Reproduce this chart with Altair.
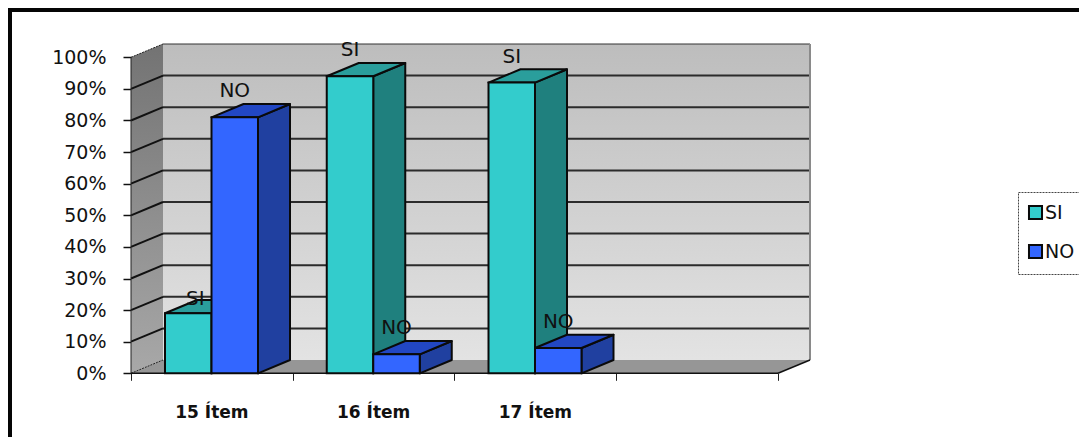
import altair as alt
import pandas as pd

categories = ["15 Ítem", "16 Ítem", "17 Ítem"]
series = ["SI", "NO"]
si_values = [19, 94, 92]
no_values = [81, 6, 8]
percent_ticks = [0, 10, 20, 30, 40, 50, 60, 70, 80, 90, 100]

FRONT = {"SI": "#33CCCC", "NO": "#3366FF"}
SIDE = {"SI": "#1F807E", "NO": "#2040A0"}
TOP = {"SI": "#2A9E9C", "NO": "#2247C4"}
FONT = "DejaVu Sans"

W, H = 1071, 429
STEP, PX = 161.75, 3.16
X0, Y0 = 123, 365.3
DX, DZ = 32 / STEP, 13.3 / PX
BAR, START = 46.5 / STEP, 34 / STEP
SLOTS = 4

xs = alt.Scale(domain=[-X0 / STEP, (W - X0) / STEP], range=[0, W], nice=False, zero=False)
ys = alt.Scale(domain=[Y0 / PX, (Y0 - H) / PX], range=[0, H], nice=False, zero=False)
x_axis = alt.Axis(values=list(range(SLOTS + 1)), labels=False, title=None, domain=False, grid=False,
                  offset=-(H - Y0), tickSize=7, tickColor="#222222", tickWidth=1)
y_axis = alt.Axis(values=percent_ticks, labelExpr="datum.value + '%'", title=None, domain=False, grid=False,
                  offset=-X0, tickSize=8, tickColor="#111111", tickWidth=1.5, labelPadding=17,
                  labelFont=FONT, labelFontSize=19, labelColor="#111111")
X = lambda f="x": alt.X(f"{f}:Q", scale=xs, axis=x_axis)
Y = lambda f="y": alt.Y(f"{f}:Q", scale=ys, axis=y_axis)

# walls -----------------------------------------------------------------
back = alt.Chart(pd.DataFrame([{"x": DX, "x2": SLOTS + DX, "y": DZ, "y2": 100 + DZ}])).mark_rect(
    color=alt.Gradient(gradient="linear", x1=0, y1=0, x2=0, y2=1,
                       stops=[alt.GradientStop(color="#BDBDBD", offset=0),
                              alt.GradientStop(color="#E3E3E3", offset=1)])
).encode(x=X(), x2="x2:Q", y=Y(), y2="y2:Q")

side = alt.Chart(pd.DataFrame([{"x": 0, "y": 100, "y2": 0}, {"x": DX, "y": 100 + DZ, "y2": DZ}])).mark_area(
    color=alt.Gradient(gradient="linear", x1=0, y1=0, x2=0, y2=1,
                       stops=[alt.GradientStop(color="#737373", offset=0),
                              alt.GradientStop(color="#A8A8A8", offset=1)])
).encode(x=X(), y=Y(), y2="y2:Q")

floor = alt.Chart(pd.DataFrame([{"y": 0, "x": 0, "x2": SLOTS}, {"y": DZ, "x": DX, "x2": SLOTS + DX}])).mark_area(
    orient="horizontal", color="#969696"
).encode(y=Y(), x=X(), x2="x2:Q")

grid_back = alt.Chart(pd.DataFrame([{"x": DX, "x2": SLOTS + DX, "y": t + DZ} for t in percent_ticks[1:-1]])).mark_rule(
    color="#2B2B2B", strokeWidth=2
).encode(x=X(), x2="x2:Q", y=Y())

top_edge = alt.Chart(pd.DataFrame([{"x": DX, "x2": SLOTS + DX, "y": 100 + DZ}])).mark_rule(
    color="#333333", strokeWidth=1
).encode(x=X(), x2="x2:Q", y=Y())

right_edge = alt.Chart(pd.DataFrame([{"x": SLOTS + DX, "y": DZ, "y2": 100 + DZ}])).mark_rule(
    color="#8A8A8A", strokeWidth=2
).encode(x=X(), y=Y(), y2="y2:Q")

slants = pd.DataFrame([r for t in percent_ticks[1:-1] for r in
                       ({"t": t, "x": 0, "y": t}, {"t": t, "x": DX, "y": t + DZ})])
grid_side = alt.Chart(slants).mark_line(color="#111111", strokeWidth=2).encode(x=X(), y=Y(), detail="t:N")

thin = pd.DataFrame([r for t in (0, 100) for r in
                     ({"t": t, "x": 0, "y": t}, {"t": t, "x": DX, "y": t + DZ})])
thin_side = alt.Chart(thin).mark_line(color="#222222", strokeWidth=1, strokeDash=[2, 1]).encode(
    x=X(), y=Y(), detail="t:N")

right_slant = alt.Chart(pd.DataFrame([{"x": SLOTS, "y": 0}, {"x": SLOTS + DX, "y": DZ}])).mark_line(
    color="#111111", strokeWidth=1.5).encode(x=X(), y=Y())

y_line = alt.Chart(pd.DataFrame([{"x": 0, "y": 0, "y2": 100}])).mark_rule(color="#222222", strokeWidth=1).encode(
    x=X(), y=Y(), y2="y2:Q")
x_line = alt.Chart(pd.DataFrame([{"x": 0, "x2": SLOTS, "y": 0}])).mark_rule(color="#111111", strokeWidth=1.5).encode(
    x=X(), x2="x2:Q", y=Y())

# bars ------------------------------------------------------------------
def bar_layers(name, values, slot):
    a = [i + START + slot * BAR for i in range(len(values))]
    b = [v + BAR for v in a]
    side_df = pd.DataFrame([r for i, v in enumerate(values) for r in
                            ({"i": i, "x": b[i], "y": v, "y2": 0},
                             {"i": i, "x": b[i] + DX, "y": v + DZ, "y2": DZ})])
    top_df = pd.DataFrame([r for i, v in enumerate(values) for r in
                           ({"i": i, "y": v, "x": a[i], "x2": b[i]},
                            {"i": i, "y": v + DZ, "x": a[i] + DX, "x2": b[i] + DX})])
    front_df = pd.DataFrame({"x": a, "x2": b, "y": values, "serie": name})
    s = alt.Chart(side_df).mark_area(color=SIDE[name], stroke="#0A0A0A", strokeWidth=2, strokeJoin="round").encode(
        x=X(), y=Y(), y2="y2:Q", detail="i:N")
    t = alt.Chart(top_df).mark_area(orient="horizontal", color=TOP[name], stroke="#0A0A0A", strokeWidth=2,
                                    strokeJoin="round").encode(y=Y(), x=X(), x2="x2:Q", detail="i:N")
    f = alt.Chart(front_df).mark_bar(stroke="#0A0A0A", strokeWidth=2).encode(
        x=X(), x2="x2:Q", y=Y(), y2=alt.datum(0),
        color=alt.Color("serie:N", scale=alt.Scale(domain=series, range=[FRONT[k] for k in series]),
                        legend=alt.Legend(title=None, orient="none", legendX=1010, legendY=184,
                                          symbolType="square", symbolSize=170, symbolStrokeColor="#0A0A0A",
                                          symbolStrokeWidth=2, symbolOffset=-3, labelFont=FONT, labelFontSize=19,
                                          labelColor="#111111", labelOffset=0, rowPadding=16,
                                          padding=11, strokeColor="#444444", fillColor="white",
                                          cornerRadius=0, values=series)),
    )
    return [s, t, f]

# labels ----------------------------------------------------------------
LIFT = 26 / PX
label_rows = []
for i in range(len(categories)):
    label_rows.append({"x": i + START + BAR / 2, "y": si_values[i] + LIFT, "t": "SI"})
    label_rows.append({"x": i + START + 1.5 * BAR, "y": no_values[i] + LIFT, "t": "NO"})
# the first SI label sits lower and further right in the reference
label_rows[0]["x"] += 7 / STEP
label_rows[0]["y"] -= 12 / PX
labels = alt.Chart(pd.DataFrame(label_rows)).mark_text(
    font=FONT, fontSize=20, color="#111111", baseline="middle", clip=False
).encode(x=X(), y=Y(), text="t:N")

cat_labels = alt.Chart(pd.DataFrame({"x": [i + 0.5 for i in range(3)], "c": categories})).mark_text(
    font=FONT, fontSize=17, fontWeight="bold", color="#111111", baseline="middle"
).encode(x=X(), y=alt.value(405), text="c:N")

title = alt.Chart(pd.DataFrame({"c": ["CONTAMINANTES"]})).mark_text(
    font="Liberation Serif", fontSize=29, fontWeight="bold", color="black", baseline="alphabetic", clip=False
).encode(x=alt.value(543), y=alt.value(-2), text="c:N")

# frame -----------------------------------------------------------------
frame_l = alt.Chart(pd.DataFrame({"a": [0]})).mark_rule(color="#050505", strokeWidth=4).encode(
    x=alt.value(2), y=alt.value(0), y2=alt.value(H))
frame_t = alt.Chart(pd.DataFrame({"a": [0]})).mark_rule(color="#050505", strokeWidth=4).encode(
    y=alt.value(2), x=alt.value(0), x2=alt.value(W))

layers = [back, side, floor, grid_back, top_edge, right_edge,
          grid_side, thin_side, right_slant, y_line, x_line]
layers += bar_layers("SI", si_values, 0) + bar_layers("NO", no_values, 1)
layers += [labels, cat_labels, frame_l, frame_t, title]

chart = alt.layer(*layers).properties(
    width=W, height=H, padding=0, autosize=alt.AutoSizeParams(type="none"), background="white"
).configure_view(stroke=None).configure_legend(strokeDash=[2, 1], strokeWidth=1)

chart.save("out.html", embed_options={"renderer": "svg", "actions": False})
